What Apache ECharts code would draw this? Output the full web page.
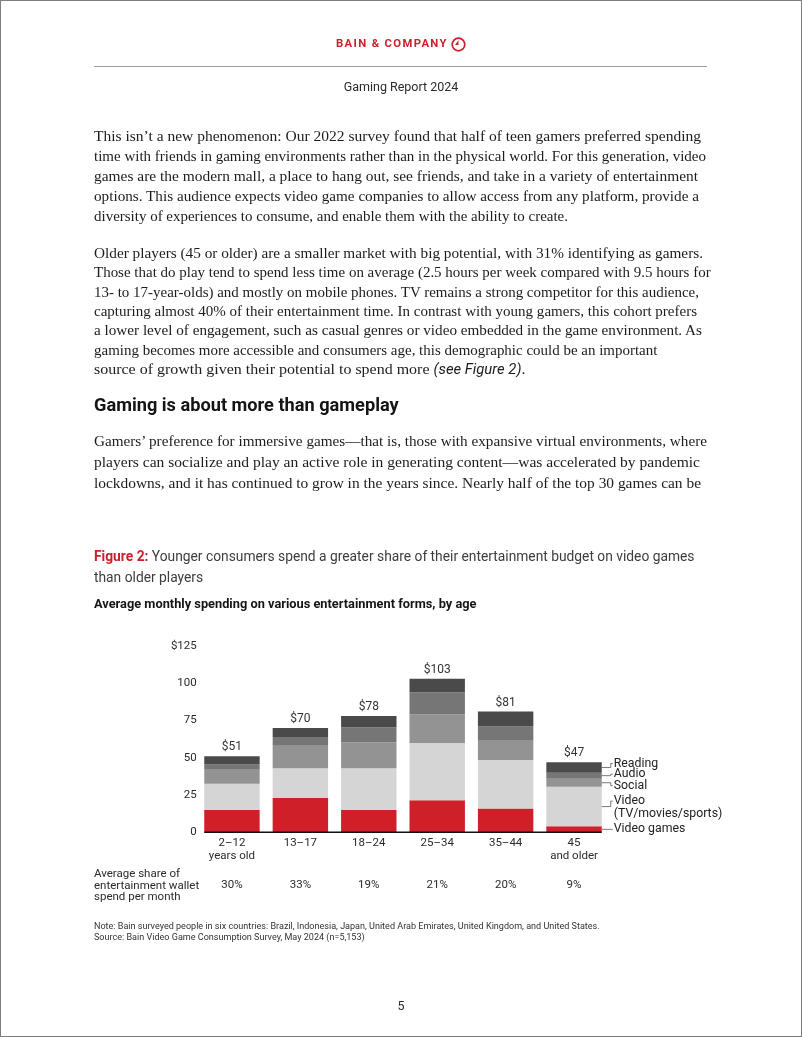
<!DOCTYPE html>
<html><head><meta charset="utf-8">
<script src="https://cdn.jsdelivr.net/npm/echarts@6/dist/echarts.min.js"></script>
<style>
html,body{margin:0;padding:0;background:#fff;}
#page{position:relative;width:802px;height:1037px;overflow:hidden;background:#fff;}
#chart{position:absolute;left:0;top:0;width:802px;height:1037px;}
#frame{position:absolute;left:0;top:0;width:802px;height:1037px;box-sizing:border-box;border:1px solid #7d7d7d;pointer-events:none;}
.t{position:absolute;white-space:nowrap;}
.p{font-family:"Liberation Serif","DejaVu Serif",serif;font-size:15.5px;color:#1c1c1c;left:94px;line-height:20px;transform-origin:0 50%;}
.sans{font-family:Roboto,"Noto Sans",sans-serif;}
</style></head>
<body>
<div id="page">
<div id="chart"></div>
<div class="t sans" style="left:336px;top:36px;font-size:11.3px;font-weight:700;letter-spacing:1.35px;color:#cc1f2a;line-height:16px;">BAIN &amp; COMPANY</div>
<svg class="t" style="left:450px;top:36px" width="17" height="17" viewBox="0 0 17 17"><circle cx="8.5" cy="8.5" r="6.3" fill="none" stroke="#cc1f2a" stroke-width="1.7"/><path d="M8.5 4.2 L8.5 9 L5 9 Z" fill="#cc1f2a"/></svg>
<div class="t" style="left:94px;top:66px;width:613px;height:1px;background:#9d9d9d;"></div>
<div class="t sans" style="left:0;width:802px;text-align:center;top:79px;font-size:12.5px;color:#2b2b2b;line-height:16px;">Gaming Report 2024</div>
<div id="body"></div>
<div class="t sans" style="left:94px;top:393px;font-size:18.2px;font-weight:700;color:#141414;line-height:24px;">Gaming is about more than gameplay</div>
<div class="t sans" style="left:0;width:802px;text-align:center;top:998px;font-size:12.5px;color:#2b2b2b;line-height:16px;">5</div>
<div id="frame"></div>
</div>
<script>
// ---- page text lines ----
const para1 = [
 "This isn’t a new phenomenon: Our 2022 survey found that half of teen gamers preferred spending",
 "time with friends in gaming environments rather than in the physical world. For this generation, video",
 "games are the modern mall, a place to hang out, see friends, and take in a variety of entertainment",
 "options. This audience expects video game companies to allow access from any platform, provide a",
 "diversity of experiences to consume, and enable them with the ability to create."
];
const para2 = [
 "Older players (45 or older) are a smaller market with big potential, with 31% identifying as gamers.",
 "Those that do play tend to spend less time on average (2.5 hours per week compared with 9.5 hours for",
 "13- to 17-year-olds) and mostly on mobile phones. TV remains a strong competitor for this audience,",
 "capturing almost 40% of their entertainment time. In contrast with young gamers, this cohort prefers",
 "a lower level of engagement, such as casual genres or video embedded in the game environment. As",
 "gaming becomes more accessible and consumers age, this demographic could be an important",
 "source of growth given their potential to spend more <i class=\"sans\" style=\"font-size:0.93em\">(see Figure 2)</i>."
];
const para3 = [
 "Gamers’ preference for immersive games—that is, those with expansive virtual environments, where",
 "players can socialize and play an active role in generating content—was accelerated by pandemic",
 "lockdowns, and it has continued to grow in the years since. Nearly half of the top 30 games can be"
];
// approximate right edges of each text line (layout only)
const rightEdges1 = [701, 706, 698, 699, 562];
const rightEdges2 = [703, 707, 695, 697, 702, 656, 532];
const rightEdges3 = [707, 700, 701];

const bodyEl = document.getElementById('body');
const allLines = [];
function addPara(lines, edges, y0, step){
  lines.forEach((s,i)=>{
    const d=document.createElement('div');
    d.className='t p';
    d.style.top=(y0+i*step-10)+'px';
    d.innerHTML=s;
    bodyEl.appendChild(d);
    allLines.push([d, edges[i]]);
  });
}
addPara(para1,rightEdges1,136,20);
addPara(para2,rightEdges2,253,19.3);
addPara(para3,rightEdges3,441,21);
(function(){
  const first=allLines[0][0];
  const w=first.getBoundingClientRect().width;
  const fs=15.5*(rightEdges1[0]-94)/w;
  allLines.forEach(([d,e])=>{
    d.style.fontSize=fs+'px';
    const ww=d.getBoundingClientRect().width;
    let s=(e-94)/ww;
    s=Math.max(0.965, Math.min(1.03, s));
    d.style.transform='scaleX('+s+')';
  });
})();

// ---- chart data ----
const categories = ['2–12\nyears old','13–17','18–24','25–34','35–44','45\nand older'];
const videoGames = [15, 23, 15, 21.5, 16, 4];
const video      = [17.5, 20, 28, 38.5, 32.5, 26.5];
const social     = [9.5, 15, 17.5, 19, 13, 5.5];
const audio      = [3.5, 6, 10, 15, 9.5, 4];
const reading    = [5.5, 6, 7.5, 9, 10, 7];
const totals     = [51, 70, 78, 103, 81, 47];
const shares     = ['30%','33%','19%','21%','20%','9%'];
const seriesNames = ['Video games','Video\n(TV/movies/sports)','Social','Audio','Reading'];
const seriesData  = [videoGames, video, social, audio, reading];
const colors = ['#cf1f28','#d5d5d5','#939393','#767676','#4a4a4a'];
const legendDy = [0, -5.5, 3, -1.5, -4];   // label offset from segment middle (px)

const FONT = 'Roboto, "Noto Sans", sans-serif';
const BAR_RATIO = 0.81;

const chart = echarts.init(document.getElementById('chart'), null, {renderer:'canvas'});

const barSeries = seriesData.map((d,k)=>({
  type:'bar', name:seriesNames[k], stack:'spend', data:d, barWidth:(BAR_RATIO*100)+'%',
  itemStyle:{color:colors[k]}, silent:true,
  label: k===4 ? {show:true, position:'top', distance:3, color:'#333', fontSize:12, fontFamily:FONT,
                  formatter:p=>'$'+totals[p.dataIndex]} : {show:false}
}));

const last = categories.length-1;
const legendData = [];
let cum = 0;
seriesData.forEach((d,k)=>{ legendData.push([last, cum, cum+d[last], k]); cum += d[last]; });

const legendSeries = {
  type:'custom', silent:true, z:5, data:legendData,
  renderItem:(params, api)=>{
    const cat=api.value(0), lo=api.value(1), hi=api.value(2), k=api.value(3);
    const pLo=api.coord([cat,lo]), pHi=api.coord([cat,hi]);
    const bw=api.size([1,0])[0]*BAR_RATIO;
    const x=pLo[0]+bw/2;
    const mid=(pLo[1]+pHi[1])/2;
    const end=mid+legendDy[k];
    const x1=x+9;
    return {type:'group', children:[
      {type:'polyline', shape:{points:[[x,mid],[x1,mid],[x1,end],[x1+2,end]]},
       style:{stroke:'#6a6a6a', lineWidth:0.9, fill:null}},
      {type:'text', x:x1+3, y:end-6.5,
       style:{text:seriesNames[k], fill:'#222', fontSize:12.3, fontFamily:FONT, lineHeight:13, verticalAlign:'top', textAlign:'left'}}
    ]};
  }
};

const baseSeries = {
  type:'custom', silent:true, z:6, data:[[0,0,last]],
  renderItem:(params, api)=>{
    const a=api.coord([api.value(0),api.value(1)]), b=api.coord([api.value(2),api.value(1)]);
    const bw=api.size([1,0])[0]*BAR_RATIO;
    return {type:'line', shape:{x1:a[0]-bw/2, y1:a[1], x2:b[0]+bw/2, y2:b[1]},
            style:{stroke:'#111', lineWidth:1.6}};
  }
};

chart.setOption({
  animation:false,
  backgroundColor:'transparent',
  title:[
    {text:'{r|Figure 2:} Younger consumers spend a greater share of their entertainment budget on video games\nthan older players',
     left:94, top:547, padding:0,
     textStyle:{fontFamily:FONT, fontSize:13.8, fontWeight:'normal', color:'#3d3d3d', lineHeight:21,
       rich:{r:{fontFamily:FONT, fontSize:13.8, fontWeight:'bold', color:'#cc1f2a', lineHeight:21}}}},
    {text:'Average monthly spending on various entertainment forms, by age', left:94, top:598, padding:0,
     textStyle:{fontFamily:FONT, fontSize:12.8, fontWeight:'bold', color:'#151515', lineHeight:14}}
  ],
  graphic:[
    {type:'text', left:94, top:868, style:{text:'Average share of\nentertainment wallet\nspend per month', fontFamily:FONT, fontSize:11.5, lineHeight:11.7, fill:'#2b2b2b'}},
    {type:'text', left:94, top:921, style:{text:'Note: Bain surveyed people in six countries: Brazil, Indonesia, Japan, United Arab Emirates, United Kingdom, and United States.\nSource: Bain Video Game Consumption Survey, May 2024 (n=5,153)', fontFamily:FONT, fontSize:9.05, lineHeight:11, fill:'#333'}}
  ],
  grid:{left:197.75, width:410.5, top:646, height:186.3, containLabel:false},
  xAxis:[
    {type:'category', data:categories, axisLine:{show:false}, axisTick:{show:false},
     axisLabel:{color:'#2b2b2b', fontSize:11.5, fontFamily:FONT, lineHeight:12.3, margin:5, interval:0}},
    {type:'category', data:shares, position:'bottom', axisLine:{show:false}, axisTick:{show:false},
     axisLabel:{color:'#2b2b2b', fontSize:11.5, fontFamily:FONT, margin:47, interval:0}}
  ],
  yAxis:{type:'value', min:0, max:125, interval:25, splitLine:{show:false}, axisLine:{show:false}, axisTick:{show:false},
    axisLabel:{color:'#2b2b2b', fontSize:11.5, fontFamily:FONT, margin:1, formatter:v=>v===125?'$125':String(v)}},
  series:[...barSeries, legendSeries, baseSeries]
});
</script>
</body></html>
